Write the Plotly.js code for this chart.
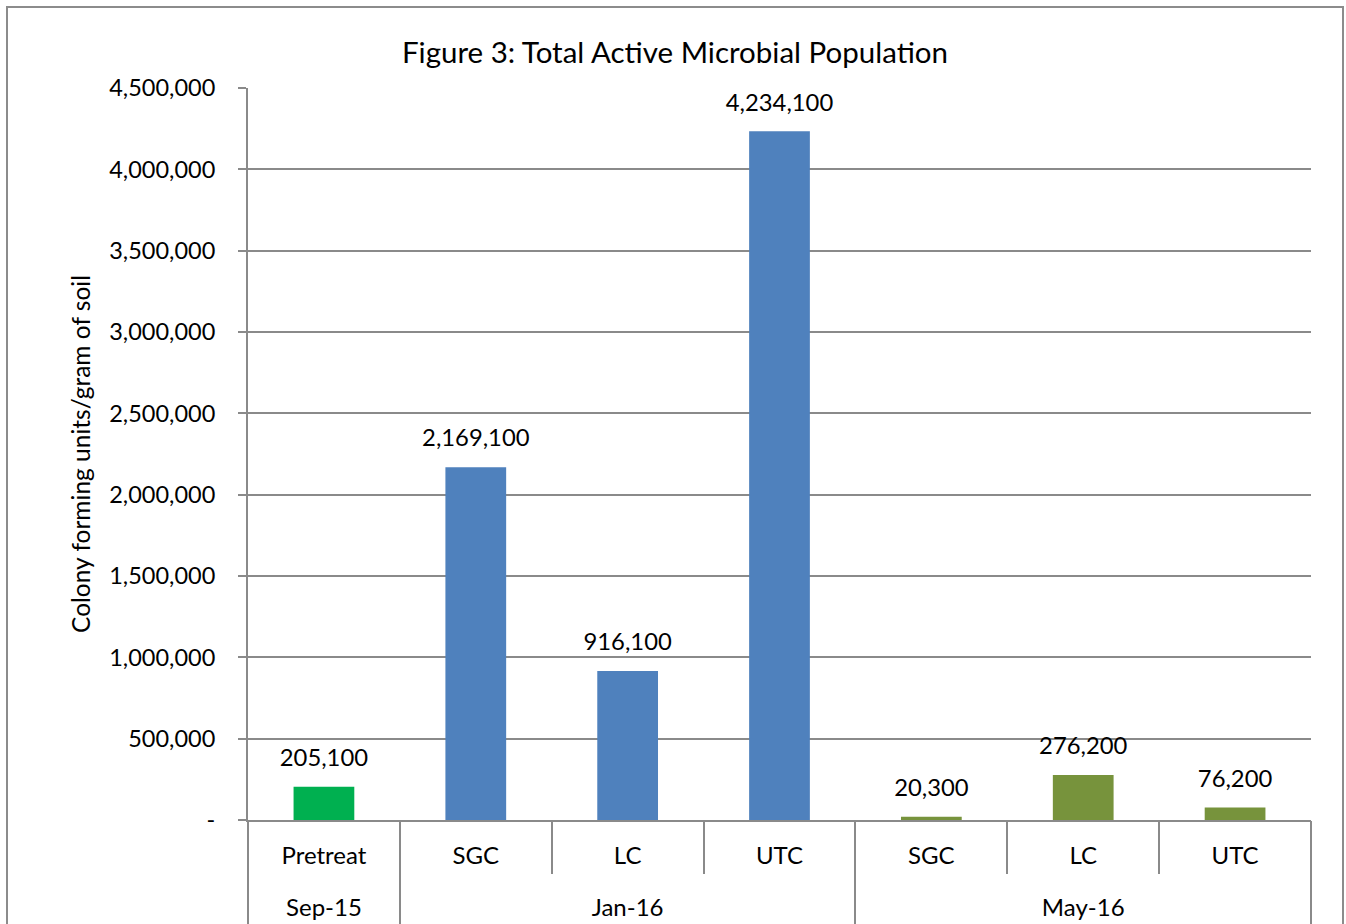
<!DOCTYPE html>
<html>
<head>
<meta charset="utf-8">
<script src="https://cdn.plot.ly/plotly-3.0.1.min.js"></script>
<style>
html, body { margin: 0; padding: 0; overflow: hidden; background: #fff; }
#frame { position: absolute; left: 6px; top: 6px; width: 1334px; height: 960px; border: 2px solid #8c8c8c; }
#chart { position: absolute; left: 0; top: 0; width: 1334px; height: 940px; }
</style>
</head>
<body>
<div id="frame"><div id="chart"></div></div>
<script>
// Data
var periods = ["Sep-15", "Jan-16", "Jan-16", "Jan-16", "May-16", "May-16", "May-16"];
var treatments = ["Pretreat", "SGC", "LC", "UTC", "SGC", "LC", "UTC"];
var cfu = [205100, 2169100, 916100, 4234100, 20300, 276200, 76200];
var barColors = ["#00B050", "#4F81BD", "#4F81BD", "#4F81BD", "#77933C", "#77933C", "#77933C"];
var yTickVals = [0, 500000, 1000000, 1500000, 2000000, 2500000, 3000000, 3500000, 4000000, 4500000];
var yTickText = ["-", "500,000", "1,000,000", "1,500,000", "2,000,000", "2,500,000", "3,000,000", "3,500,000", "4,000,000", "4,500,000"];

// Category positions / group structure derived from the arrays
var idx = treatments.map(function (t, i) { return i; });
var catBounds = idx.map(function (i) { return i - 0.5; }).concat([idx.length - 0.5]);
var groupNames = [], groupCenters = [], groupBounds = [-0.5];
(function () {
  var start = 0;
  for (var i = 1; i <= periods.length; i++) {
    if (i === periods.length || periods[i] !== periods[start]) {
      groupNames.push(periods[start]);
      groupCenters.push((start + i - 1) / 2);
      groupBounds.push(i - 0.5);
      start = i;
    }
  }
})();

var FONT = "Lato, 'Open Sans', sans-serif";
var GRAY = "#8a8a8a";
var XR = [-0.5, idx.length - 0.5];

var bars = {
  type: "bar",
  x: idx,
  y: cfu,
  marker: { color: barColors, line: { width: 0 } },
  hoverinfo: "skip"
};

var labels = {
  type: "scatter",
  mode: "markers+text",
  x: idx,
  y: cfu,
  xaxis: "x2",
  yaxis: "y",
  marker: { size: 22, opacity: 0 },
  texttemplate: "%{y:,}",
  textposition: "top center",
  textfont: { family: FONT, size: 23.8, color: "#000" },
  cliponaxis: false,
  hoverinfo: "skip",
  showlegend: false
};

var layout = {
  width: 1334,
  height: 940,
  margin: { l: 240, r: 31, t: 80, b: 128 },
  paper_bgcolor: "rgba(0,0,0,0)",
  plot_bgcolor: "#fff",
  showlegend: false,
  hovermode: false,
  bargap: 0.6,
  font: { family: FONT, size: 22, color: "#000" },
  title: {
    text: "Figure 3: Total Active Microbial Population",
    font: { family: FONT, size: 29.5, color: "#000" },
    x: 0.5, xref: "container", xanchor: "center", y: 0.952, yanchor: "middle"
  },
  xaxis: {
    type: "linear",
    range: XR,
    tickmode: "array", tickvals: idx, ticktext: treatments,
    ticks: "", ticklabelstandoff: 13,
    showline: true, linecolor: GRAY, linewidth: 2,
    showgrid: false, zeroline: false,
    tickfont: { family: FONT, size: 24, color: "#000" },
    minor: { tickmode: "array", tickvals: catBounds, ticks: "outside", ticklen: 52, tickwidth: 2, tickcolor: GRAY, showgrid: false }
  },
  xaxis2: {
    type: "linear",
    overlaying: "x",
    anchor: "y",
    side: "bottom",
    range: XR,
    tickmode: "array", tickvals: groupCenters, ticktext: groupNames,
    ticks: "", ticklabelstandoff: 71,
    showline: false, showgrid: false, zeroline: false,
    tickfont: { family: FONT, size: 24, color: "#000" },
    minor: { tickmode: "array", tickvals: groupBounds, ticks: "outside", ticklen: 130, tickwidth: 2, tickcolor: GRAY, showgrid: false }
  },
  yaxis: {
    range: [0, 4500000],
    tickmode: "array", tickvals: yTickVals, ticktext: yTickText,
    showline: true, linecolor: GRAY, linewidth: 2,
    showgrid: true, gridcolor: GRAY, gridwidth: 2,
    zeroline: false,
    ticks: "outside", ticklen: 8, tickwidth: 2, tickcolor: GRAY,
    ticklabelstandoff: 18,
    tickfont: { family: FONT, size: 23.5, color: "#000" },
    title: { text: "Colony forming units/gram of soil", font: { family: FONT, size: 24.5, color: "#000" }, standoff: 12 }
  }
};

Plotly.newPlot("chart", [bars, labels], layout, { displayModeBar: false, staticPlot: true });
</script>
</body>
</html>
